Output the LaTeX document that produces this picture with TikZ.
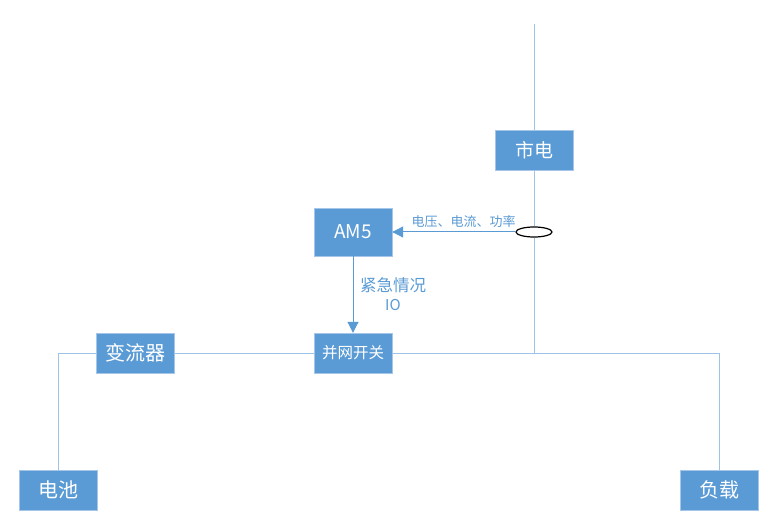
\documentclass[tikz,border=0pt]{standalone}
\usepackage{fontspec}
\setmainfont{Noto Sans CJK SC}
\usetikzlibrary{arrows.meta,positioning,shapes.geometric}
\definecolor{boxblue}{HTML}{5B9BD5}
\definecolor{edgeblue}{HTML}{A5C6E8}
\definecolor{wireblue}{HTML}{9DC3E6}

\tikzset{
  unitbox/.style={draw=edgeblue, fill=boxblue, text=white, minimum width=78pt, minimum height=40pt, inner sep=0pt, font=\fontsize{19}{19}\selectfont},
  wire/.style={draw=wireblue, line width=1pt},
  sigline/.style={draw=boxblue, line width=1pt, -{Triangle[length=11pt,width=11pt]}},
  siglabel/.style={text=boxblue, inner sep=1pt}
}

\begin{document}
\begin{tikzpicture}[x=1pt, y=-1pt]
\useasboundingbox[fill=white] (0,0) rectangle (772,516);

% Units
\node[unitbox] (mains) at (534,150) {市电};
\node[unitbox, minimum height=48pt] (amfive) at (353,232) {AM5};
\node[unitbox, font=\fontsize{15.5}{15.5}\selectfont] (gridsw) at (353,353) {并网开关};
\node[unitbox, font=\fontsize{20}{20}\selectfont] (inverter) at (135,353) {变流器};
\node[unitbox, font=\fontsize{20}{20}\selectfont] (battery) at (58,490) {电池};
\node[unitbox, font=\fontsize{20}{20}\selectfont] (load) at (719,490) {负载};

% Wiring points
\coordinate (mtop) at (534,24);
\coordinate (junction) at (534,353);

% Current sensor
\node[draw=black, line width=1.2pt, ellipse, minimum width=36pt, minimum height=10pt, inner sep=0pt] (sensor) at (534,232) {};

% Power wiring
\draw[wire] (mtop) -- (mains.north);
\draw[wire] (mains.south) -- (sensor.north);
\draw[wire] (sensor.south) -- (junction);
\draw[wire] (gridsw.east) -| (load.north);
\draw[wire] (gridsw.west) -- (inverter.east);
\draw[wire] (inverter.west) -| (battery.north);

% Signals
\draw[sigline] (sensor.west) -- (amfive.east)
  node[pos=0.42, above=3pt, siglabel, font=\fontsize{13}{13}\selectfont] {电压、电流、功率};
\draw[sigline] (amfive.south) -- (gridsw.north);
\node[siglabel, font=\fontsize{16.5}{16.5}\selectfont] (emerg) at (393,285) {紧急情况};
\node[siglabel, font=\fontsize{15}{15}\selectfont] (iolabel) at (393,305) {IO};

\end{tikzpicture}
\end{document}
